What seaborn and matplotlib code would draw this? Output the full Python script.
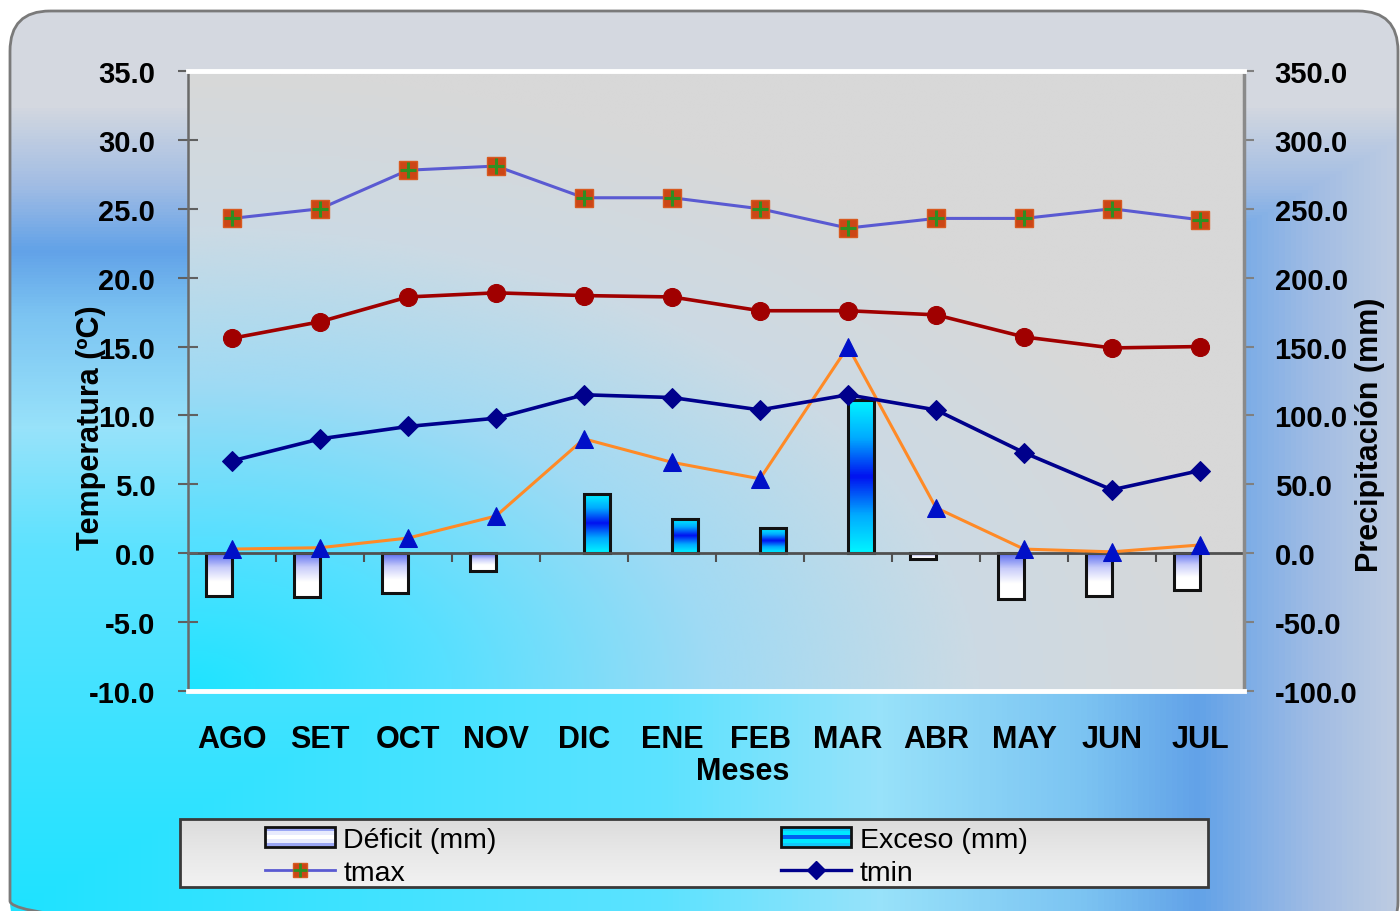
import numpy as np
import pandas as pd
import matplotlib
matplotlib.use("Agg")
import matplotlib.pyplot as plt
from matplotlib.patches import FancyBboxPatch, Rectangle
from matplotlib.colors import LinearSegmentedColormap
from matplotlib.lines import Line2D
from matplotlib.legend_handler import HandlerTuple, HandlerBase
import seaborn as sns

# ---------------- data ----------------
meses = ["AGO", "SET", "OCT", "NOV", "DIC", "ENE", "FEB", "MAR", "ABR", "MAY", "JUN", "JUL"]
tmax = [24.3, 25.0, 27.8, 28.1, 25.8, 25.8, 25.0, 23.6, 24.3, 24.3, 25.0, 24.2]
tmed = [15.6, 16.8, 18.6, 18.9, 18.7, 18.6, 17.6, 17.6, 17.3, 15.7, 14.9, 15.0]
tmin = [6.7, 8.3, 9.2, 9.8, 11.5, 11.3, 10.4, 11.5, 10.4, 7.3, 4.6, 6.0]
precipitacion = [3, 4, 11, 27, 83, 66, 54, 150, 33, 3, 1, 6]
deficit = [-31, -32, -29, -13, 0, 0, 0, 0, -4, -33, -31, -27]
exceso = [0, 0, 0, 0, 43, 25, 18, 111, 0, 0, 0, 0]

temp_ticks = np.arange(-10, 36, 5)
prec_ticks = np.arange(-100, 351, 50)

plt.rcParams["font.family"] = ["Liberation Sans", "DejaVu Sans"]

W, H = 1400, 912
fig = plt.figure(figsize=(W / 100, H / 100), dpi=100)
fig.patch.set_facecolor("white")


def fx(px):
    return px / W


def fy(py):
    return 1 - py / H


# ---------------- chart-area background (rounded, gradient) ----------------
bg = fig.add_axes([0, 0, 1, 1], zorder=-10)
bg.set_axis_off()
bg.set_xlim(0, W)
bg.set_ylim(H, 0)
yy, xx = np.mgrid[0:H, 0:W]
u = (xx - 10) / 1450
v = (912 - yy) / 807
t = np.clip(np.maximum(u, v), 0, 1)
cmap_out = LinearSegmentedColormap.from_list(
    "out",
    [(0, "#1ee2ff"), (0.45, "#5ce2ff"), (0.6, "#98e2fa"), (0.74, "#7cc4f2"),
     (0.82, "#62a2e8"), (0.9, "#a0bce4"), (1, "#d4d8e0")])
img = bg.imshow(t, cmap=cmap_out, vmin=0, vmax=1, extent=(0, W, H, 0),
                aspect="auto", interpolation="bilinear")
frame = FancyBboxPatch((10, 12), 1388, 930, boxstyle="round,pad=0,rounding_size=40",
                       fc="none", ec="#7a7a7a", lw=2)
bg.add_patch(frame)
img.set_clip_path(frame)

# legend panel
leg_rect = Rectangle((180, 820), 1028, 68, fc="none", ec="#3a3a3a", lw=2, zorder=3)
bg.add_patch(leg_rect)
leg_grad = np.linspace(0, 1, 64).reshape(-1, 1)
cmap_leg = LinearSegmentedColormap.from_list("leg", ["#dcdcdc", "#e8e8e8", "#f2f2f2"])
li = bg.imshow(leg_grad, cmap=cmap_leg, extent=(180, 1208, 888, 820), aspect="auto", zorder=2)
li.set_clip_path(leg_rect)
bg.set_xlim(0, W)
bg.set_ylim(H, 0)

# ---------------- plot axes ----------------
left, right, top, bottom = 188, 1244, 72, 692
ax_p = fig.add_axes([fx(left), fy(bottom), (right - left) / W, (bottom - top) / H])
ax_t = ax_p.twinx()

# plot-area gradient
gu, gv = np.meshgrid(np.linspace(0, 1, 400), np.linspace(1, 0, 300))
r = np.clip(np.hypot(gu, gv), 0, 1)
cmap_area = LinearSegmentedColormap.from_list(
    "area", [(0, "#1ee4ff"), (0.25, "#58e0ff"), (0.5, "#a0daf4"), (0.75, "#ccdae4"), (1, "#d8d8d8")])
ax_p.imshow(r, cmap=cmap_area, vmin=0, vmax=1, extent=(0, 1, 0, 1), transform=ax_p.transAxes,
            aspect="auto", zorder=0, interpolation="bilinear")

# deficit / surplus bars (precipitation axis)
df = pd.DataFrame({
    "mes": meses * 2,
    "tipo": ["Déficit (mm)"] * 12 + ["Exceso (mm)"] * 12,
    "valor": deficit + exceso,
})
sns.barplot(data=df, x="mes", y="valor", hue="tipo", order=meses,
            hue_order=["Déficit (mm)", "Exceso (mm)"], width=0.6, dodge=True,
            errorbar=None, ax=ax_p, legend=False, palette=["#ffffff", "#00e8ff"],
            saturation=1, edgecolor="#111111", linewidth=2.2, zorder=2)

def_cmap = LinearSegmentedColormap.from_list("def", ["#5a6cf0", "#c8ccfa", "#ffffff", "#ffffff"])
exc_cmap = LinearSegmentedColormap.from_list("exc", ["#00f4ff", "#00a8ff", "#0010f0", "#00a8ff", "#00f4ff"])
col = np.linspace(0, 1, 64).reshape(-1, 1)
for container, cm in zip(ax_p.containers, [def_cmap, exc_cmap]):
    for bar in container:
        h = bar.get_height()
        if h == 0:
            bar.set_visible(False)
            continue
        x0, w = bar.get_x(), bar.get_width()
        im = ax_p.imshow(col, cmap=cm, extent=(x0, x0 + w, min(h, 0), max(h, 0)),
                         aspect="auto", zorder=2.1)
        im.set_clip_path(bar)
        bar.set_facecolor("none")
        bar.set_zorder(2.2)

x = np.arange(len(meses))

# precipitation line
sns.lineplot(x=x, y=precipitacion, ax=ax_p, color="#ff8a26", linewidth=2.2, marker="^",
             markersize=13, markerfacecolor="#0010c8", markeredgecolor="#0010c8",
             zorder=4, legend=False)

# temperature lines
sns.lineplot(x=x, y=tmax, ax=ax_t, color="#5a5ad2", linewidth=2.2, marker="s", markersize=12.5,
             markerfacecolor="#cc4616", markeredgecolor="#d85a20", markeredgewidth=1, legend=False)
ax_t.plot(x, tmax, ls="none", marker="+", ms=12, mew=2.2, color="#2f8f22")
sns.lineplot(x=x, y=tmed, ax=ax_t, color="#a00000", linewidth=2.6, marker="o", markersize=13,
             markerfacecolor="#a00000", markeredgecolor="#a00000", legend=False)
sns.lineplot(x=x, y=tmin, ax=ax_t, color="#00008c", linewidth=2.6, marker="D", markersize=10,
             markerfacecolor="#00008c", markeredgecolor="#00008c", legend=False)

# ---------------- axes styling ----------------
ax_p.set_xlim(-0.5, 11.5)
ax_p.set_ylim(-100, 350)
ax_t.set_ylim(-10, 35)

ax_p.yaxis.tick_right()
ax_p.yaxis.set_label_position("right")
ax_t.yaxis.tick_left()
ax_t.yaxis.set_label_position("left")

ax_t.set_yticks(temp_ticks, [f"{v:.1f}" for v in temp_ticks], fontsize=21, fontweight="bold")
ax_p.set_yticks(prec_ticks, [f"{v:.1f}" for v in prec_ticks], fontsize=21, fontweight="bold")

ax_t.xaxis.set_visible(True)
ax_t.set_xticks(x, meses, fontsize=22, fontweight="bold")
ax_p.set_xticks(np.arange(0.5, 11, 1), minor=True)
ax_p.tick_params(axis="x", which="major", length=0, labelbottom=False)
ax_p.tick_params(axis="x", which="minor", length=6.5, width=1.5, color="#505050", direction="out")
ax_t.tick_params(axis="x", which="major", length=0, pad=24, labelbottom=True)
ax_t.tick_params(axis="x", which="minor", length=0)

ax_t.tick_params(axis="y", direction="inout", length=15, width=1.5, color="#606060", pad=16)
ax_p.tick_params(axis="y", direction="out", length=7, width=1.5, color="#808080", pad=15)

for s in ["top", "left", "right"]:
    ax_p.spines[s].set_visible(False)
ax_p.spines["bottom"].set_position(("data", 0))
ax_p.spines["bottom"].set_color("#505050")
ax_p.spines["bottom"].set_linewidth(2)

ax_t.spines["left"].set_color("#6a6a6a")
ax_t.spines["left"].set_linewidth(1.8)
ax_t.spines["right"].set_color("#8a8a8a")
ax_t.spines["right"].set_linewidth(2.5)
for s in ["top", "bottom"]:
    ax_t.spines[s].set_color("white")
    ax_t.spines[s].set_linewidth(3.5)

ax_p.set_xlabel("")
ax_t.set_xlabel("Meses", fontsize=22, fontweight="bold")
ax_t.xaxis.set_label_coords((743 - left) / (right - left), -0.105)
ax_t.set_ylabel("Temperatura (ºC)", fontsize=22, fontweight="bold")
ax_t.yaxis.set_label_coords((106 - left) / (right - left), (bottom - 428) / (bottom - top))
ax_p.set_ylabel("Precipitación (mm)", fontsize=22, fontweight="bold")
ax_p.yaxis.set_label_coords((1355 - left) / (right - left), (bottom - 435) / (bottom - top))

ax_p.set_xlim(-0.5, 11.5)
ax_p.set_ylim(-100, 350)


# ---------------- legend ----------------
class GradientHandler(HandlerBase):
    def __init__(self, colors):
        super().__init__()
        self.colors = colors

    def create_artists(self, legend, orig_handle, xdescent, ydescent, width, height, fontsize, trans):
        n = len(self.colors)
        arts = []
        for i, c in enumerate(self.colors):
            arts.append(Rectangle((-xdescent, -ydescent + height * (n - 1 - i) / n), width, height / n,
                                  fc=c, ec="none", transform=trans))
        arts.append(Rectangle((-xdescent, -ydescent), width, height, fc="none", ec="#111111",
                              lw=2, transform=trans))
        return arts


h_def = Rectangle((0, 0), 1, 1)
h_exc = Rectangle((0, 0), 1, 1)
h_tmax = (Line2D([], [], color="#5a5ad2", lw=2, marker="s", ms=10,
                 mfc="#cc4616", mec="#d85a20"),
          Line2D([], [], ls="none", marker="+", ms=10, mew=2, color="#2f8f22"))
h_tmin = Line2D([], [], color="#00008c", lw=2.4, marker="D", ms=9, mfc="#00008c", mec="#00008c")

fig.legend([h_def, h_tmax, h_exc, h_tmin],
           ["Déficit (mm)", "tmax", "Exceso (mm)", "tmin"],
           handler_map={h_def: GradientHandler(["#9aa6f4", "#e8ebfd", "#ffffff", "#e8ebfd", "#9aa6f4"]),
                        h_exc: GradientHandler(["#10c8f8", "#00e8ff", "#0060f0", "#00e8ff", "#10c8f8"]),
                        tuple: HandlerTuple(ndivide=1)},
           ncol=2, loc="upper left", bbox_to_anchor=(fx(265), fy(828)), frameon=False,
           fontsize=20.5, borderpad=0, borderaxespad=0, handlelength=2.45, handletextpad=0.3,
           columnspacing=10.0, labelspacing=0.24)

fig.savefig("out.png", dpi=100)
